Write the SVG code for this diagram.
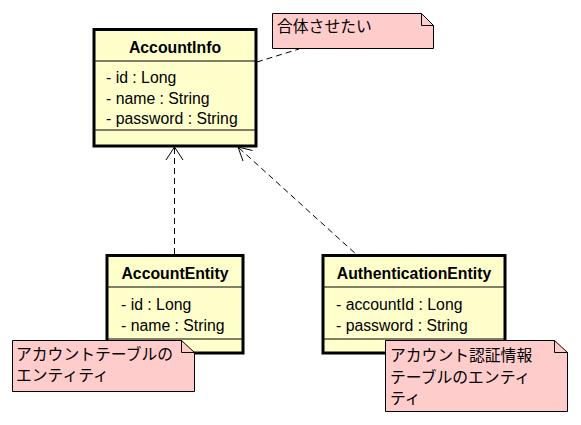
<svg xmlns="http://www.w3.org/2000/svg" width="581" height="425" viewBox="0 0 581 425">
<style>
.cls{fill:#FFFFCC;stroke:#000;stroke-width:3}
.sep{stroke:#000;stroke-width:1}
.note{fill:#FFCCCC;stroke:#000;stroke-width:1}
.fold{fill:none;stroke:#000;stroke-width:1}
.t{font-family:"Liberation Sans",Arial,sans-serif;font-size:15.8px;fill:#000}
.b{font-weight:bold;text-anchor:middle}
.j{font-family:"Liberation Sans","Noto Sans CJK JP",sans-serif;font-size:15.8px;fill:#000}
.dash{fill:none;stroke:#000;stroke-width:1;stroke-dasharray:6,4}
.head{fill:none;stroke:#000;stroke-width:1}
</style>
<rect width="581" height="425" fill="#fff"/>
<g id="connectors">
<line class="dash" x1="174.5" y1="148" x2="174.5" y2="255"/>
<polyline class="head" points="166,160 174.5,147 183,160"/>
<line class="dash" x1="239" y1="148" x2="357" y2="255"/>
<polyline class="head" points="243,161 238,147 252.5,150.5"/>
<line class="dash" x1="257" y1="62" x2="299" y2="49"/>
</g>
<g id="AccountInfo">
<rect class="cls" x="94" y="29.5" width="162" height="116.5"/>
<line class="sep" x1="94" y1="61" x2="256" y2="61"/>
<line class="sep" x1="94" y1="130" x2="256" y2="130"/>
<text class="t b" x="175" y="53">AccountInfo</text>
<text class="t" x="106" y="83">- id : Long</text>
<text class="t" x="106" y="104">- name : String</text>
<text class="t" x="106" y="124">- password : String</text>
</g>
<g id="AccountEntity">
<rect class="cls" x="107" y="255.5" width="136" height="97.5"/>
<line class="sep" x1="107" y1="287" x2="243" y2="287"/>
<line class="sep" x1="107" y1="339" x2="243" y2="339"/>
<text class="t b" x="175" y="279">AccountEntity</text>
<text class="t" x="121" y="310">- id : Long</text>
<text class="t" x="121" y="331">- name : String</text>
</g>
<g id="AuthenticationEntity">
<rect class="cls" x="323" y="255.5" width="182" height="97.5"/>
<line class="sep" x1="323" y1="287" x2="505" y2="287"/>
<line class="sep" x1="323" y1="339" x2="505" y2="339"/>
<text class="t b" x="414" y="279">AuthenticationEntity</text>
<text class="t" x="336" y="310">- accountId : Long</text>
<text class="t" x="336" y="331">- password : String</text>
</g>
<g id="note-merge">
<polygon class="note" points="272.5,13.5 421.5,13.5 433.5,25.5 433.5,48.5 272.5,48.5"/>
<polyline class="fold" points="421.5,13.5 421.5,25.5 433.5,25.5"/>
<text class="j" x="277" y="32">合体させたい</text>
</g>
<g id="note-account">
<polygon class="note" points="12.5,340.5 181.5,340.5 194.5,352.5 194.5,391.5 12.5,391.5"/>
<polyline class="fold" points="181.5,340.5 181.5,352.5 194.5,352.5"/>
<text class="j" x="16" y="360">アカウントテーブルの</text>
<text class="j" x="16" y="381">エンティティ</text>
</g>
<g id="note-auth">
<polygon class="note" points="385.5,340.5 554.5,340.5 567.5,352.5 567.5,411.5 385.5,411.5"/>
<polyline class="fold" points="554.5,340.5 554.5,352.5 567.5,352.5"/>
<text class="j" x="390" y="361">アカウント認証情報</text>
<text class="j" x="390" y="383">テーブルのエンティ</text>
<text class="j" x="390" y="404">ティ</text>
</g>
</svg>
